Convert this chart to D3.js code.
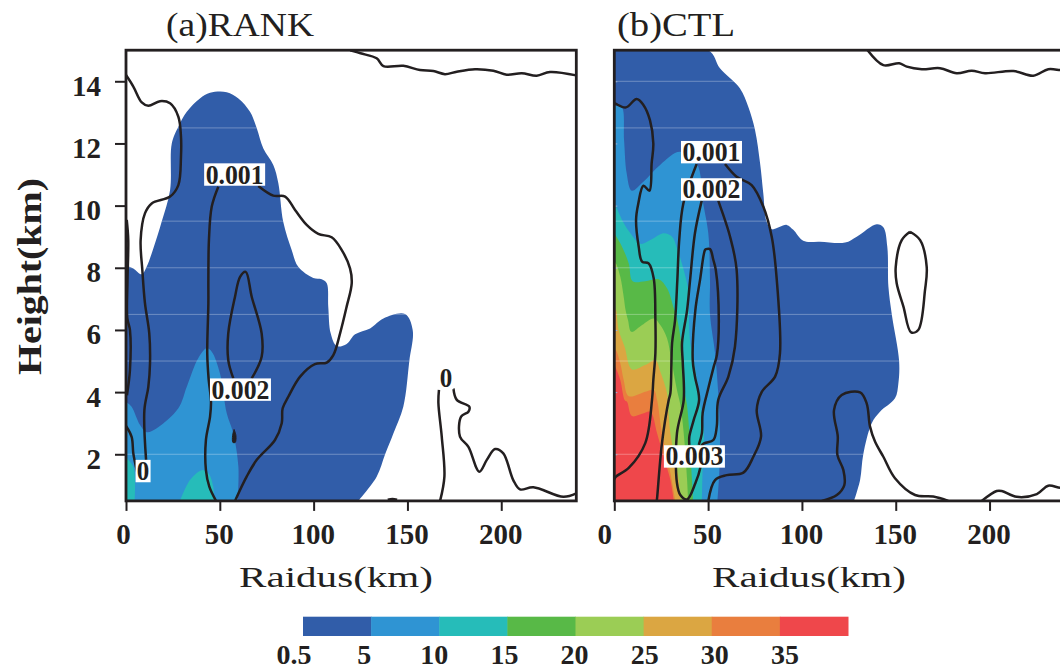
<!DOCTYPE html>
<html><head><meta charset="utf-8">
<script src="https://cdn.jsdelivr.net/npm/d3@7/dist/d3.min.js"></script>
<style>html,body{margin:0;padding:0;background:#fff;overflow:hidden}svg{display:block}</style>
</head><body><div id="chart"></div>
<script>
// ---------- shared categories / ticks ----------
const levelLabels = ["0.5","5","10","15","20","25","30","35"];
const levelColors = ["#315da9","#2f94d3","#26bcb9","#58b947","#9bcd55","#dba642","#e97e3e","#ef474b"];
const radiusTicks = [0,50,100,150,200];
const heightTicks = [2,4,6,8,10,12,14];
const seamHeights = [14,12.5,9.5,8,6.5,5,2];

// ---------- panel (a) RANK: filled contour boundaries [radius km, height km] ----------
const rankFill05 = [[0,8.1],[0.7,8.06],[3.9,7.98],[8.4,7.79],[11,8.03],[14.6,8.63],[19,9.48],[23.5,10.5],[24.4,12.0],[27.9,12.54],[32.4,13.02],[39.4,13.45],[44.8,13.63],[53.7,13.65],[59.9,13.45],[66.1,13.02],[69.7,12.49],[73.2,11.84],[78.5,11.31],[81.2,10.72],[83.8,9.48],[88.3,8.57],[91.8,8.03],[99.8,7.67],[104.3,7.63],[107,7.5],[107.8,6.75],[109.1,5.89],[112.3,5.48],[117.6,5.55],[122.1,5.86],[130.1,6.05],[137.2,6.37],[148.7,6.51],[152.8,6.0],[151,5.0],[147.8,3.53],[142.5,2.67],[138.1,2.0],[133.6,1.28],[123.8,0.5]];
const rankFill5 = [[0,3.7],[0.7,3.66],[3,3.53],[7.5,2.94],[11,2.71],[16.4,2.84],[27.9,3.48],[32.4,4.17],[38.5,5.09],[43,5.41],[45.7,5.3],[50.1,4.6],[53.7,3.32],[57.2,2.67],[59.9,1.6],[59.5,0.5]];
const rankFill10a = [[28.8,0.5],[34.1,1.17],[40.4,1.49],[43.9,1.39],[46.5,0.96],[46.9,0.5]];
const rankFill10b = [[0,2.0],[0.7,1.87],[3.9,1.6],[4.8,1.07],[4.6,0.5]];

// ---------- panel (a) RANK: contour lines ----------
const rankLineTop = [[119.5,15],[125,14.9],[133.6,14.74],[137.2,14.49],[147.8,14.5],[156.7,14.36],[163.8,14.33],[170,14.23],[176.3,14.31],[186,14.39],[195.8,14.34],[202.9,14.21],[210.9,14.26],[218.9,14.18],[226,14.3],[240,14.19]];
const rankLineLeft = [[0,14.2],[3.9,13.83],[8.4,13.32],[11.9,13.21],[18.1,13.36],[23.5,13.29],[27.9,12.86],[29.3,12.22],[29.3,11.57],[27.9,10.66],[23.5,10.29],[13.7,10.07],[10.1,9.75],[7.8,8.89],[8.7,7.93],[10.1,6.86],[12.4,5.89],[12.8,4.93],[11.9,4.17],[9.8,3.42],[10.7,1.82]];
const rankLineEdge1 = [[0.4,9.54],[1.2,8.89],[0.8,7.6],[0.7,6.38],[2.1,6.0],[2.1,4.71],[0.5,3.9]];
const rankLineEdge2 = [[0,2.91],[3,2.56],[3.9,2.03],[5.3,1.6],[6.4,1.33]];
const rankLine001L = [[49.2,10.61],[45.7,9.97],[44.2,8.89],[43.9,7.61],[43.9,6.86],[43.3,5.25],[44,4.45],[45.3,3.69],[44.8,3.21],[42.6,2.46],[42.6,1.49],[44.4,0.96],[48,0.5]];
const rankLine001R = [[70.5,10.63],[78.5,10.32],[84.8,10.29],[90.1,9.86],[96.3,9.38],[102.5,9.09],[109.6,8.98],[115,8.57],[119.4,7.98],[120.3,7.5],[117.6,6.75],[114.1,5.89],[110.5,5.19],[107,4.95],[100.7,4.9],[92.8,4.5],[86.5,3.85],[83.5,3.48],[83,3.0],[79.4,2.46],[69.7,1.82],[64.3,1.28],[58.1,0.5]];
const rankLine002 = [[57.2,4.44],[54.5,5.03],[54.5,5.89],[58.1,7.07],[60.8,7.71],[63.8,7.87],[67,7.07],[72.3,5.89],[72.3,5.14],[67,4.44]];
const rankBlob = [[57.6,2.8],[58.6,2.6],[58.2,2.38],[57,2.38],[56.8,2.6],[57.6,2.8]];
const rankLineR1 = [[166.8,4.07],[166.5,3.65],[168.3,2.56],[169.7,1.28],[167.4,0.5]];
const rankLineR2 = [[174.5,4.12],[176.3,3.75],[183,3.53],[182.5,3.37],[178.6,3.21],[178,2.57],[182.5,2.24],[188.3,1.44],[192.3,1.82],[196.7,2.17],[201.1,2.03],[206.4,1.17],[210,0.87],[217.1,0.94],[233.1,0.63],[240,0.74]];
const rankLineFoot = [[139.5,0.54],[142,0.56],[144.5,0.54]];
const rankLabels = [["0.001",57.9,11.0],["0.002",61,4.08],["0",9.1,1.46],["0",170.5,4.45]];

// ---------- panel (b) CTL: filled contour boundaries ----------
const ctlFill05 = [[0,15],[50.1,15],[56.3,14.42],[67,13.77],[71.4,13.18],[75,12.43],[77.7,11.36],[79.4,10.4],[81.2,9.48],[83.9,9.24],[91.9,9.38],[95.4,9.22],[100.7,8.87],[109.6,8.84],[123,8.81],[129.2,9.0],[139.9,9.4],[143.4,9.3],[145.5,8.68],[146.1,7.39],[147.9,6.5],[151.8,5.0],[151.4,4.28],[149.6,3.8],[141.6,3.37],[137.2,3.0],[132.7,2.0],[131,1.17],[127.8,0.5]];
const ctlFill5 = [[0,13.2],[3.9,13.18],[5.2,12.11],[6.6,11.04],[9.3,10.48],[15.5,10.77],[24.4,11.31],[35,11.73],[43.9,11.36],[47.4,10.07],[50.1,9.11],[51,7.61],[51,6.5],[53.7,5.25],[55.4,3.96],[56.3,2.67],[56,1.49],[55,0.5]];
const ctlFill10 = [[0,10.07],[0.9,9.97],[5,9.44],[8.5,9.12],[13.9,8.77],[19.2,8.89],[26.3,9.11],[30.8,9.0],[33.4,8.63],[37,7.93],[39.7,7.18],[39.8,6.32],[40.5,5.57],[42.3,5.03],[44.6,4.17],[45.8,3.59],[47.7,2.78],[47.1,1.6],[46.7,0.5]];
const ctlFill15 = [[0,9.1],[0.9,9.02],[4.1,8.68],[7.7,8.14],[9.8,7.57],[16.5,7.57],[23.7,7.63],[28.1,7.34],[31.7,6.7],[33.4,6.38],[35.2,5.78],[36.5,5.03],[37,4.17],[38.7,3.59],[40,2.68],[41.4,1.17],[42,0.5]];
const ctlFill20 = [[0,8.2],[0.9,8.14],[3.2,7.71],[5,7.07],[6,6.64],[7.3,6.32],[9.1,5.94],[14.8,6.16],[21,6.37],[24.5,6.16],[28.1,5.73],[30.4,5.03],[33.4,4.07],[35.2,3.59],[37,2.68],[38.8,1.17],[39.3,0.5]];
const ctlFill25 = [[0,6.7],[0.9,6.64],[2.3,6.0],[5.5,5.46],[9.4,4.73],[16.5,4.87],[21.9,5.03],[24.5,4.66],[28.1,3.96],[28.6,3.59],[29.9,2.68],[34.3,1.17],[35.2,0.5]];
const ctlFill30 = [[0,5.4],[0.9,5.35],[3.2,4.93],[5,4.39],[7.7,3.87],[16.5,4.01],[21,4.07],[22.8,3.75],[25.4,2.68],[29.9,1.4],[32.5,0.5]];
const ctlFill35 = [[0,4.9],[0.9,4.77],[3.2,4.39],[5.5,3.75],[6.8,3.69],[9.4,3.23],[14.8,3.3],[19.2,3.37],[22.8,2.68],[26.3,1.92],[29.9,1.17],[31.7,0.5]];

// ---------- panel (b) CTL: contour lines ----------
const ctlLineTop = [[135,15],[143.4,14.52],[151.9,14.58],[155.9,14.47],[163.9,14.39],[173.6,14.42],[182.5,14.26],[190.5,14.34],[197.6,14.26],[212.7,14.33],[223.3,14.18],[231.3,14.39],[237.6,14.36],[240,14.35]];
const ctlLineLeft = [[0,13.3],[0.9,13.27],[6.2,13.16],[11.9,13.43],[15.5,13.24],[19,12.75],[20.8,12.0],[19.9,11.36],[18.7,10.48],[15.5,10.64],[12.8,10.07],[11.6,9.54],[13,8.68],[14.8,8.2],[18.3,8.14],[21,7.66],[21.9,6.32],[21.9,5.26],[20.8,4.39],[20.1,3.75],[16.5,2.36],[7.7,1.56],[0.9,1.28],[0,1.2]];
const ctlLine001L = [[43.9,11.34],[36.8,10.07],[34.6,8.89],[33.6,7.61],[32.4,6.32],[30.8,5.58],[29.9,3.97],[29,3.75],[25.4,2.36],[22.8,0.59],[22.6,0.5]];
const ctlLine001R = [[59,11.34],[65.2,10.93],[73.2,10.66],[79.4,9.97],[83.9,9.0],[86.6,7.61],[88.3,5.25],[85.7,4.5],[78.6,4.01],[75.9,3.42],[78.2,2.57],[74.1,1.92],[68.8,1.41],[59.9,1.33],[53.7,1.17],[50.1,0.5]];
const ctlLine002 = [[46.6,10.16],[43,9.12],[40.4,7.61],[38.8,6.64],[36.1,5.58],[36.5,4.94],[37,3.75],[33.4,2.68],[33.4,1.07],[35.2,0.69],[38.8,0.55],[43.2,1.07],[45.8,1.56],[46.7,2.3],[52.8,2.46],[54.6,2.89],[55.4,3.75],[60.8,4.5],[64.3,5.46],[65.2,7.93],[61.7,9.0],[55.4,10.16]];
const ctlLine003 = [[40,2.3],[40,2.57],[42.3,3.1],[45.2,3.75],[43,4.5],[41.8,5.03],[43.2,6.64],[45.7,7.61],[48.3,8.57],[48.9,8.6],[51,8.6],[52.8,8.25],[54.1,7.93],[55.7,6.32],[54.7,5.2],[53,4.82],[50.3,4.17],[47.1,3.33],[46.7,2.68],[45,2.3]];
const ctlLineLoop = [[157.6,9.16],[153.2,8.89],[150,8.03],[150.5,7.5],[154.1,6.75],[158.2,5.92],[162,6.0],[165.6,7.28],[166.5,8.03],[163,8.89],[157.6,9.16]];
const ctlLineBlob = [[110.6,0.5],[118.6,0.69],[122.6,1.01],[122.1,1.49],[118.9,1.98],[119.1,2.57],[117.1,3.42],[121.2,3.91],[131,3.99],[134.5,3.64],[136.3,2.89],[139,2.4],[143.4,1.92],[149.6,1.23],[160.3,0.69],[170,0.64],[178,0.5]];
const ctlLineRight = [[195.8,0.5],[203.8,0.82],[206.5,0.82],[214.5,0.63],[225.2,0.72],[231.3,0.99],[237.6,0.92],[240,0.95]];
const ctlLabels = [["0.001",51.8,11.72],["0.002",51.8,10.52],["0.003",42.7,1.93]];

const rankFills = [[rankFill05,0],[rankFill5,1],[rankFill10a,2],[rankFill10b,2]];
const ctlFills = [[ctlFill05,0],[ctlFill5,1],[ctlFill10,2],[ctlFill15,3],[ctlFill20,4],[ctlFill25,5],[ctlFill30,6],[ctlFill35,7]];
const rankLines = [rankLineTop,rankLineLeft,rankLineEdge1,rankLineEdge2,rankLine001L,rankLine001R,rankLine002,rankLineR1,rankLineR2,rankLineFoot];
const ctlLines = [ctlLineTop,ctlLineLeft,ctlLine001L,ctlLine001R,ctlLine002,ctlLine003,ctlLineLoop,ctlLineBlob,ctlLineRight];

// ---------- drawing ----------
const ink = "#231f20";
const serif = "'Liberation Serif', serif";
const svg = d3.select("#chart").append("svg").attr("width",1060).attr("height",670);
const plotTop = 50.2, plotBottom = 500.9;
const y = d3.scaleLinear().domain([0.5,15]).range([plotBottom,plotTop]);

function stretched(g, str, x0, yBase, size, len, weight){
  return g.append("text").attr("x",x0).attr("y",yBase).attr("font-family",serif)
    .attr("font-size",size).attr("font-weight",weight||"normal").attr("fill",ink)
    .attr("textLength",len).attr("lengthAdjust","spacingAndGlyphs").text(str);
}

function panel(id, left, title, titleX, titleLen, fills, lines, labels, blob, xLabelX, showY){
  const x = d3.scaleLinear().domain([0,240]).range([left,left+450.3]);
  const g = svg.append("g");
  const clipId = "clip"+id, fillClip = "fill"+id;
  svg.append("clipPath").attr("id",clipId).append("rect")
    .attr("x",x(0)).attr("y",plotTop).attr("width",x(240)-x(0)).attr("height",plotBottom-plotTop);
  const line = d3.line().x(d=>x(d[0])).y(d=>y(d[1])).curve(d3.curveCatmullRom.alpha(0.5));
  const closed = pts => line(pts)+`L${x(0)},${y(0.5)}L${x(0)},${y(pts[0][1])}Z`;
  const body = g.append("g").attr("clip-path",`url(#${clipId})`);
  body.selectAll("path.f").data(fills).enter().append("path").attr("class","f")
    .attr("d",d=>closed(d[0])).attr("fill",d=>levelColors[d[1]]);
  svg.append("clipPath").attr("id",fillClip).append("path").attr("d",closed(fills[0][0]));
  body.append("g").attr("clip-path",`url(#${fillClip})`).selectAll("line").data(seamHeights).enter().append("line")
    .attr("x1",x(0)).attr("x2",x(240)).attr("y1",d=>y(d)).attr("y2",d=>y(d))
    .attr("stroke","#fff").attr("stroke-opacity",0.3).attr("stroke-width",1);
  body.selectAll("path.c").data(lines).enter().append("path").attr("class","c")
    .attr("d",d=>line(d)).attr("fill","none").attr("stroke",ink).attr("stroke-width",2.5).attr("stroke-linejoin","round");
  if(blob) body.append("path").attr("d",line(blob)+"Z").attr("fill",ink).attr("stroke",ink).attr("stroke-width",1);
  // contour labels
  const lab = g.selectAll("g.lab").data(labels).enter().append("g").attr("class","lab")
    .attr("transform",d=>`translate(${x(d[1])},${y(d[2])})`);
  lab.append("rect").attr("x",d=>d[0].length>1?-30.5:-7.5).attr("width",d=>d[0].length>1?61:15)
    .attr("y",-11.2).attr("height",22.4).attr("fill","#fff");
  lab.append("text").attr("text-anchor","middle").attr("y",9).attr("font-family",serif).attr("font-weight","bold")
    .attr("font-size",28).attr("fill",ink).attr("textLength",d=>d[0].length>1?58:12.5)
    .attr("lengthAdjust","spacingAndGlyphs").text(d=>d[0]);
  // axes
  const ax = g.append("g").attr("transform",`translate(0,${y(0.5)})`)
    .call(d3.axisBottom(x).tickValues(radiusTicks).tickSize(10).tickFormat(d3.format("d")));
  ax.select(".domain").remove();
  ax.selectAll(".tick line").attr("stroke",ink).attr("stroke-width",2);
  ax.selectAll(".tick text").attr("font-family",serif).attr("font-weight","bold").attr("font-size",29)
    .attr("fill",ink).attr("y",0).attr("dy",0)
    .attr("transform",d=>`translate(${d===0?(showY?-3:-10):-1},43)`);
  const ay = g.append("g").attr("transform",`translate(${x(0)},0)`)
    .call(d3.axisLeft(y).tickValues(heightTicks).tickSize(showY?11:-3).tickFormat(d=>showY?d:""));
  ay.select(".domain").remove();
  ay.selectAll(".tick line").attr("stroke",showY?ink:"#9db3d6").attr("stroke-width",showY?2:1);
  ay.selectAll(".tick text").attr("font-family",serif).attr("font-weight","bold").attr("font-size",29)
    .attr("fill",ink).attr("x",-25).attr("dy",0).attr("y",14);
  // frame
  g.append("rect").attr("x",x(0)).attr("y",y(15)).attr("width",x(240)-x(0)).attr("height",y(0.5)-y(15))
    .attr("fill","none").attr("stroke",ink).attr("stroke-width",2.8);
  stretched(g,title,titleX,36,33,titleLen);
  stretched(g,"Raidus(km)",xLabelX,587,30,194);
}

panel("a",126,"(a)RANK",166,148,rankFills,rankLines,rankLabels,rankBlob,239,true);
panel("b",614.3,"(b)CTL",617,118,ctlFills,ctlLines,ctlLabels,null,712,false);

// y-axis title
const yt = svg.append("g").attr("transform","translate(41,375) rotate(-90)");
stretched(yt,"Height(km)",0,0,34,197,"bold");

// colour bar
const barX = d3.scaleLinear().domain([0,8]).range([303,848]);
const labelX = d3.scaleLinear().domain([0,7]).range([294,785]);
const bar = svg.append("g");
bar.selectAll("rect").data(levelColors).enter().append("rect")
  .attr("x",(d,i)=>barX(i)).attr("y",616.7).attr("width",barX(1)-barX(0)+0.5).attr("height",19.3).attr("fill",d=>d);
bar.selectAll("text").data(levelLabels).enter().append("text")
  .attr("x",(d,i)=>labelX(i)).attr("y",663.5).attr("text-anchor","middle")
  .attr("font-family",serif).attr("font-weight","bold").attr("font-size",28).attr("fill",ink).text(d=>d);
</script></body></html>
